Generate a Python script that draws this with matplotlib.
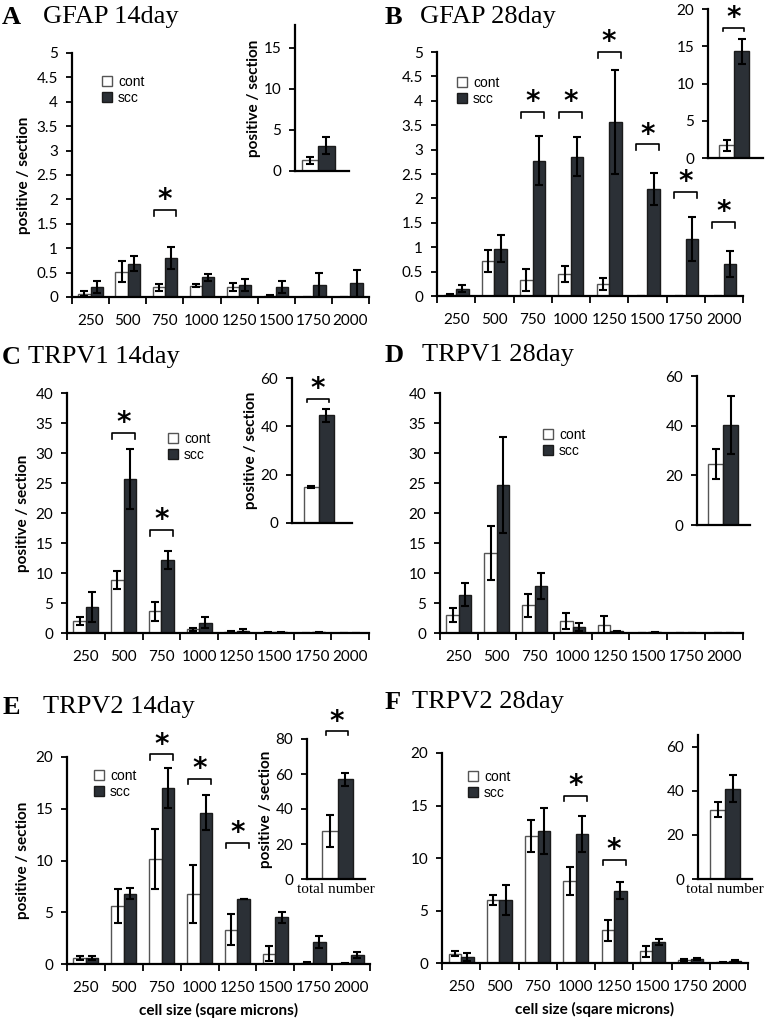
import numpy as np
import matplotlib
matplotlib.use('Agg')
import matplotlib.pyplot as plt

# cell size categories
cats = ['250', '500', '750', '1000', '1250', '1500', '1750', '2000']

# A: GFAP 14day
gfap14_cont = [0.07, 0.52, 0.20, 0.23, 0.20, 0.03, 0.0, 0.0]
gfap14_cont_err = [0.05, 0.22, 0.07, 0.03, 0.08, 0.01, 0.0, 0.0]
gfap14_scc = [0.20, 0.68, 0.80, 0.40, 0.25, 0.20, 0.25, 0.28]
gfap14_scc_err = [0.12, 0.15, 0.22, 0.07, 0.12, 0.12, 0.24, 0.28]
gfap14_total = [1.3, 3.1]
gfap14_total_err = [0.4, 1.0]

# B: GFAP 28day
gfap28_cont = [0.03, 0.72, 0.33, 0.45, 0.25, 0.0, 0.0, 0.0]
gfap28_cont_err = [0.01, 0.22, 0.22, 0.16, 0.12, 0.0, 0.0, 0.0]
gfap28_scc = [0.15, 0.97, 2.77, 2.85, 3.57, 2.20, 1.17, 0.65]
gfap28_scc_err = [0.07, 0.28, 0.50, 0.40, 1.07, 0.33, 0.45, 0.27]
gfap28_total = [1.7, 14.3]
gfap28_total_err = [0.7, 1.7]

# C: TRPV1 14day
trpv1_14_cont = [2.0, 8.9, 3.6, 0.6, 0.2, 0.1, 0.0, 0.0]
trpv1_14_cont_err = [0.7, 1.5, 1.6, 0.3, 0.1, 0.05, 0.0, 0.0]
trpv1_14_scc = [4.4, 25.7, 12.1, 1.7, 0.4, 0.1, 0.1, 0.0]
trpv1_14_scc_err = [2.5, 5.0, 1.5, 0.9, 0.2, 0.05, 0.05, 0.0]
trpv1_14_total = [15.0, 44.5]
trpv1_14_total_err = [0.5, 2.5]

# D: TRPV1 28day
trpv1_28_cont = [3.0, 13.4, 4.6, 2.0, 1.4, 0.0, 0.0, 0.0]
trpv1_28_cont_err = [1.1, 4.5, 1.9, 1.4, 1.4, 0.0, 0.0, 0.0]
trpv1_28_scc = [6.4, 24.6, 7.8, 1.0, 0.3, 0.1, 0.0, 0.0]
trpv1_28_scc_err = [1.9, 8.0, 2.2, 0.6, 0.1, 0.05, 0.0, 0.0]
trpv1_28_total = [24.5, 40.2]
trpv1_28_total_err = [6.0, 11.8]

# E: TRPV2 14day
trpv2_14_cont = [0.6, 5.6, 10.1, 6.8, 3.3, 1.0, 0.1, 0.05]
trpv2_14_cont_err = [0.2, 1.6, 2.9, 2.8, 1.5, 0.7, 0.1, 0.05]
trpv2_14_scc = [0.6, 6.8, 17.0, 14.6, 6.3, 4.5, 2.1, 0.9]
trpv2_14_scc_err = [0.2, 0.5, 1.9, 1.7, 0.0, 0.5, 0.6, 0.3]
trpv2_14_total = [27.5, 57.0]
trpv2_14_total_err = [9.0, 3.7]

# F: TRPV2 28day
trpv2_28_cont = [0.9, 6.0, 12.1, 7.8, 3.1, 1.1, 0.3, 0.05]
trpv2_28_cont_err = [0.2, 0.5, 1.5, 1.3, 1.0, 0.5, 0.1, 0.05]
trpv2_28_scc = [0.6, 6.0, 12.6, 12.3, 6.9, 2.0, 0.4, 0.15]
trpv2_28_scc_err = [0.4, 1.4, 2.2, 1.7, 0.8, 0.3, 0.1, 0.1]
trpv2_28_total = [31.5, 41.0]
trpv2_28_total_err = [3.5, 6.0]

W, H = 770, 1022
SCC = '#2b3036'
TICKFONT = 'Lato'

fig = plt.figure(figsize=(W / 100, H / 100), dpi=100)


def px_axes(l, t, r, b):
    return fig.add_axes([l / W, 1 - b / H, (r - l) / W, (b - t) / H])


def bracket(ax, x0, x1, y, drop):
    ax.plot([x0, x0, x1, x1], [y - drop, y, y, y - drop], color='black', lw=1.2, clip_on=False)
    # star sits ~18 px above the bracket
    ax.annotate('*', xy=((x0 + x1) / 2, y), xytext=(0, 7), textcoords='offset points',
                ha='center', va='center', fontsize=20, fontweight='bold',
                family='DejaVu Sans', annotation_clip=False)


def style_axes(ax, ymax, ystep):
    for s in ['top', 'right']:
        ax.spines[s].set_visible(False)
    for s in ['left', 'bottom']:
        ax.spines[s].set_linewidth(1.6)
    ax.set_ylim(0, ymax)
    ticks = np.arange(0, ymax + 1e-9, ystep)
    ax.set_yticks(ticks)
    ax.set_yticklabels([f'{v:g}' for v in ticks], family=TICKFONT, fontsize=11)
    ax.tick_params(axis='y', direction='out', length=4, width=1.3, pad=6)


panels = [
    dict(letter='A', title='GFAP 14day', cont=gfap14_cont, cerr=gfap14_cont_err,
         scc=gfap14_scc, serr=gfap14_scc_err, tot=gfap14_total, terr=gfap14_total_err,
         main=(72, 53, 369, 297), ymax=5, ystep=0.5,
         inset=(295, 25, 349, 171), iymax=17.8, iystep=5, ixlim=(-0.9, 2.36),
         sig=[(2, 1.78)], isig=None, ylabel=True, xlabel=False, total_label=False,
         leg=(102, 78), lx=2, ly=17, tx=43),
    dict(letter='B', title='GFAP 28day', cont=gfap28_cont, cerr=gfap28_cont_err,
         scc=gfap28_scc, serr=gfap28_scc_err, tot=gfap28_total, terr=gfap28_total_err,
         main=(437, 52, 743, 296), ymax=5, ystep=0.5,
         inset=(708, 9, 763, 158), iymax=20, iystep=5, ixlim=(-1.27, 2.44),
         sig=[(2, 3.77), (3, 3.77), (4, 5.0), (5, 3.11), (6, 2.13), (7, 1.52)],
         isig=17.5, ylabel=False, xlabel=False, total_label=False,
         leg=(457, 79), lx=385, ly=17, tx=420),
    dict(letter='C', title='TRPV1 14day', cont=trpv1_14_cont, cerr=trpv1_14_cont_err,
         scc=trpv1_14_scc, serr=trpv1_14_scc_err, tot=trpv1_14_total, terr=trpv1_14_total_err,
         main=(67, 393, 369, 633), ymax=40, ystep=5,
         inset=(292, 378, 352, 523), iymax=60, iystep=20, ixlim=(-1.28, 2.72),
         sig=[(1, 33.3), (2, 17.2)], isig=51.5, ylabel=True, xlabel=False, total_label=False,
         leg=(168, 435), lx=2, ly=357, tx=28),
    dict(letter='D', title='TRPV1 28day', cont=trpv1_28_cont, cerr=trpv1_28_cont_err,
         scc=trpv1_28_scc, serr=trpv1_28_scc_err, tot=trpv1_28_total, terr=trpv1_28_total_err,
         main=(440, 393, 743, 633), ymax=40, ystep=5,
         inset=(697, 376, 750, 525), iymax=60, iystep=20, ixlim=(-1.25, 2.3),
         sig=[], isig=None, ylabel=False, xlabel=False, total_label=False,
         leg=(543, 431), lx=385, ly=355, tx=422),
    dict(letter='E', title='TRPV2 14day', cont=trpv2_14_cont, cerr=trpv2_14_cont_err,
         scc=trpv2_14_scc, serr=trpv2_14_scc_err, tot=trpv2_14_total, terr=trpv2_14_total_err,
         main=(67, 757, 370, 964), ymax=20, ystep=5,
         inset=(307, 739, 365, 879), iymax=80, iystep=20, ixlim=(-1.5, 2.3),
         sig=[(2, 20.25), (3, 17.9), (4, 11.7)], isig=84.4, ylabel=True, xlabel=True,
         total_label=True, leg=(94, 772), lx=3, ly=707, tx=43),
    dict(letter='F', title='TRPV2 28day', cont=trpv2_28_cont, cerr=trpv2_28_cont_err,
         scc=trpv2_28_scc, serr=trpv2_28_scc_err, tot=trpv2_28_total, terr=trpv2_28_total_err,
         main=(442, 753, 748, 963), ymax=20, ystep=5,
         inset=(698, 735, 752, 879), iymax=65.3, iystep=20, ixlim=(-1.3, 2.3),
         sig=[(3, 15.9), (4, 9.8)], isig=None, ylabel=False, xlabel=True,
         total_label=True, leg=(468, 773), lx=385, ly=702, tx=412),
]

x = np.arange(len(cats))
bw = 0.33
ebar = dict(ecolor='black', elinewidth=1.5, capsize=3, capthick=1.5)

for p in panels:
    # main chart
    ax = px_axes(*p['main'])
    b1 = ax.bar(x - bw / 2, p['cont'], bw, yerr=p['cerr'], color='white',
                edgecolor='#555555', linewidth=1, error_kw=ebar, label='cont')
    b2 = ax.bar(x + bw / 2, p['scc'], bw, yerr=p['serr'], color=SCC,
                edgecolor='#1a1a1a', linewidth=1, error_kw=ebar, label='scc')
    style_axes(ax, p['ymax'], p['ystep'])
    ax.set_xlim(-0.5, len(cats) - 0.5)
    ax.set_xticks(x)
    ax.set_xticklabels(cats, family=TICKFONT, fontsize=11)
    ax.set_xticks(np.arange(-0.5, len(cats), 1), minor=True)
    ax.tick_params(axis='x', which='major', length=0, pad=12)
    ax.tick_params(axis='x', which='minor', direction='out', length=5, width=1.3)
    drop = p['ymax'] * 0.025
    for i, yb in p['sig']:
        bracket(ax, i - 0.3, i + 0.3, yb, drop)
    if p['ylabel']:
        ax.set_ylabel('positive / section', family=TICKFONT, fontweight='bold', fontsize=11)
    if p['xlabel']:
        ax.set_xlabel('cell size (sqare microns)', family=TICKFONT, fontweight='bold',
                      fontsize=11, labelpad=6)
    l, t, r, b = p['main']
    lxp, lyp = p['leg']
    ax.legend(handles=[b1, b2], loc='upper left', frameon=False,
              bbox_to_anchor=((lxp - l) / (r - l), (b - lyp + 3) / (b - t)),
              prop={'family': 'Liberation Sans', 'size': 10},
              handlelength=0.75, handleheight=0.75, handletextpad=0.4,
              labelspacing=0.15, borderpad=0, borderaxespad=0)

    # inset with total numbers
    ai = px_axes(*p['inset'])
    ai.bar([0, 1], p['tot'], 1.0, yerr=p['terr'], color=['white', SCC],
           edgecolor=['#555555', '#1a1a1a'], linewidth=1, error_kw=ebar)
    style_axes(ai, p['iymax'], p['iystep'])
    ai.set_xlim(*p['ixlim'])
    ai.set_xticks([])
    if p['isig'] is not None:
        bracket(ai, -0.28, 1.17, p['isig'], p['iymax'] * 0.025)
    if p['ylabel']:
        ai.set_ylabel('positive / section', family=TICKFONT, fontweight='bold',
                      fontsize=11, labelpad=2)
    if p['total_label']:
        ai.set_xlabel('total number', family='Liberation Serif', fontsize=11, labelpad=3)

    # panel title
    fig.text(p['lx'] / W, 1 - p['ly'] / H, p['letter'], family='Liberation Serif',
             fontweight='bold', fontsize=19, va='center')
    fig.text(p['tx'] / W, 1 - p['ly'] / H, p['title'], family='Liberation Serif',
             fontsize=19, va='center')

fig.savefig('out.png', dpi=100)
